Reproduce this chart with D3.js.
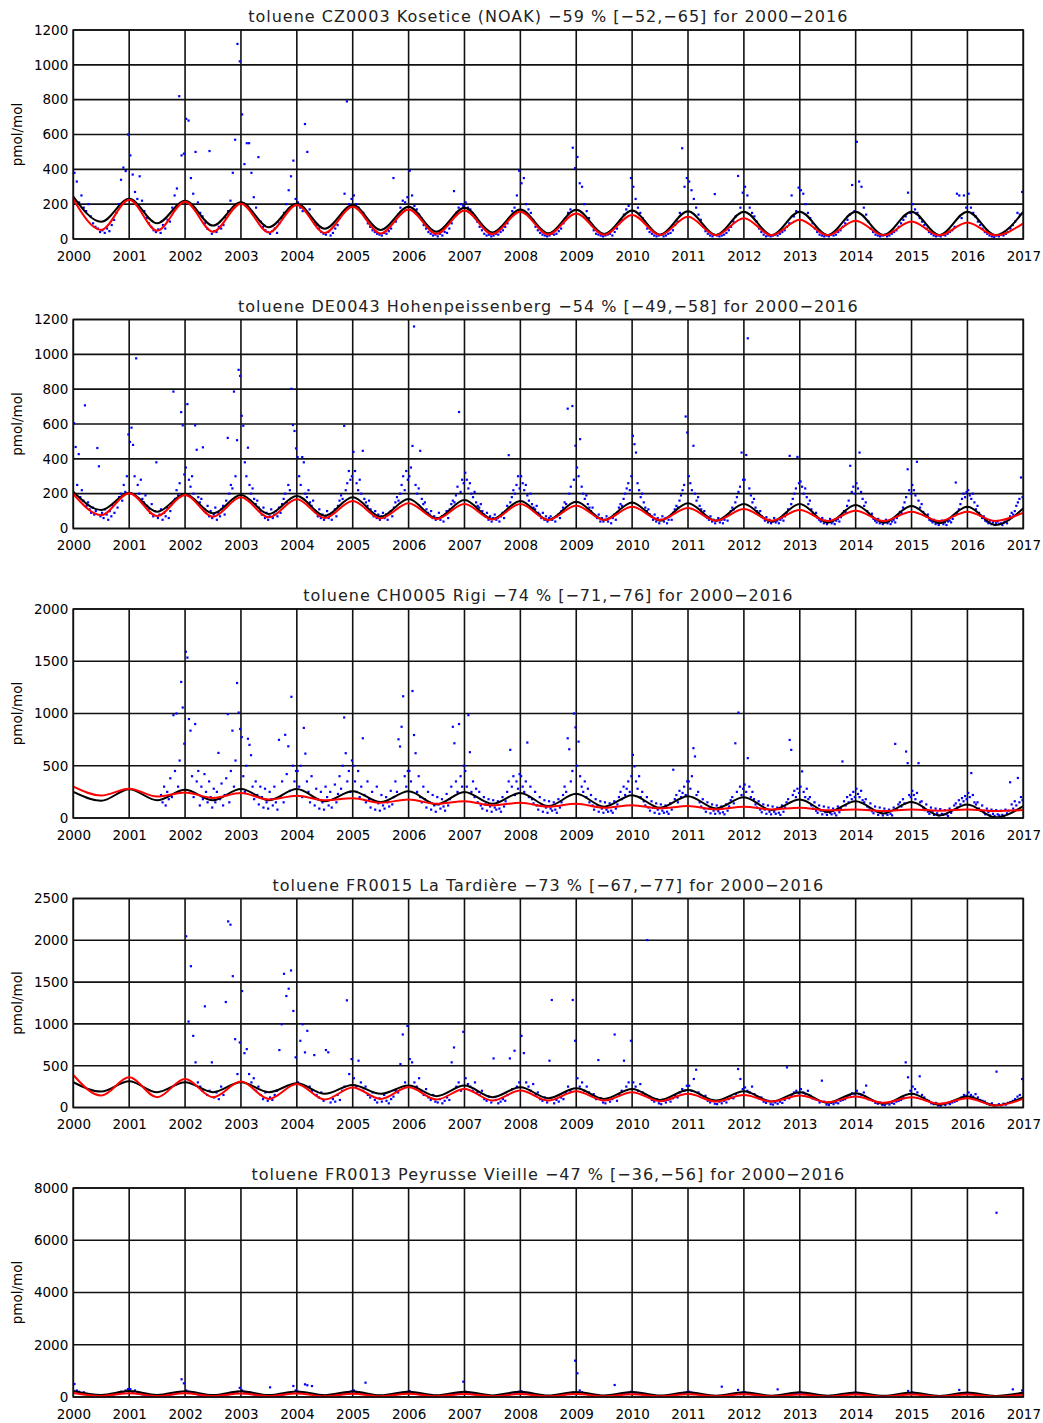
<!DOCTYPE html>
<html>
<head>
<meta charset="utf-8">
<script src="https://cdn.jsdelivr.net/npm/d3@7"></script>
<style>
  body { margin: 0; background: #fff; }
</style>
</head>
<body>
<div id="chart"></div>
<script>
// tick labels
const yearTicks = [2000, 2001, 2002, 2003, 2004, 2005, 2006, 2007, 2008, 2009, 2010, 2011, 2012, 2013, 2014, 2015, 2016, 2017];
const czTicks = [0, 200, 400, 600, 800, 1000, 1200];
const deTicks = [0, 200, 400, 600, 800, 1000, 1200];
const chTicks = [0, 500, 1000, 1500, 2000];
const fr15Ticks = [0, 500, 1000, 1500, 2000, 2500];
const fr13Ticks = [0, 2000, 4000, 6000, 8000];

const titles = [
  "toluene CZ0003 Kosetice (NOAK) \u221259 % [\u221252,\u221265] for 2000\u22122016",
  "toluene DE0043 Hohenpeissenberg \u221254 % [\u221249,\u221258] for 2000\u22122016",
  "toluene CH0005 Rigi \u221274 % [\u221271,\u221276] for 2000\u22122016",
  "toluene FR0015 La Tardi\u00e8re \u221273 % [\u221267,\u221277] for 2000\u22122016",
  "toluene FR0013 Peyrusse Vieille \u221247 % [\u221236,\u221256] for 2000\u22122016"
];

// fitted curves: values at Jan 1 and Jul 1 of every year (2000 ... 2017)
const czBlack = [243, 99, 231, 90, 220, 77, 211, 67, 203, 59, 195, 52, 185, 42, 180, 38, 170, 33, 168, 29, 163, 25, 160, 23, 157, 22, 157, 22, 157, 22, 157, 22, 157, 22, 157];
const czRed = [228, 52, 225, 48, 214, 42, 203, 38, 195, 35, 185, 32, 170, 30, 163, 28, 157, 26, 147, 24, 138, 23, 128, 22, 119, 21, 110, 21, 105, 21, 100, 21, 95, 21, 90];
const deBlack = [211, 106, 205, 96, 198, 87, 192, 83, 187, 73, 179, 68, 169, 58, 164, 55, 158, 49, 154, 49, 150, 45, 145, 45, 141, 39, 141, 33, 135, 33, 129, 30, 125, 20, 116];
const deRed = [198, 77, 202, 72, 192, 68, 179, 64, 168, 60, 158, 58, 145, 55, 141, 52, 141, 49, 131, 49, 125, 49, 118, 45, 112, 45, 106, 43, 102, 43, 96, 43, 96, 43, 91];
const chBlack = [250, 165, 275, 170, 270, 170, 277, 170, 277, 160, 256, 152, 256, 130, 250, 136, 240, 114, 231, 108, 218, 98, 209, 92, 199, 76, 177, 57, 161, 44, 152, 25, 130, 6, 114];
const chRed = [300, 215, 280, 205, 245, 192, 239, 176, 214, 170, 190, 146, 177, 136, 161, 120, 146, 108, 136, 98, 123, 92, 114, 82, 108, 82, 98, 73, 82, 66, 82, 70, 82, 66, 76];
const fr15Black = [302, 190, 313, 183, 302, 183, 302, 183, 290, 163, 270, 163, 262, 135, 262, 123, 242, 111, 230, 103, 222, 91, 210, 83, 194, 71, 183, 56, 171, 44, 163, 32, 131, 24, 123];
const fr15Red = [389, 143, 361, 123, 341, 123, 310, 103, 282, 95, 240, 103, 242, 95, 222, 83, 202, 83, 194, 83, 183, 75, 163, 71, 151, 71, 143, 63, 131, 56, 123, 44, 111, 24, 103];
const fr13Black = [230, 80, 225, 78, 222, 75, 218, 72, 215, 70, 210, 68, 205, 65, 200, 62, 198, 60, 195, 58, 190, 55, 185, 52, 182, 50, 178, 48, 175, 45, 170, 42, 168, 40, 165];
const fr13Red = [150, 38, 145, 36, 140, 35, 135, 34, 130, 33, 125, 32, 122, 30, 118, 29, 115, 28, 112, 27, 108, 26, 105, 25, 102, 24, 100, 23, 97, 22, 95, 21, 92, 20, 90];

// samples, one row per year 2000..2016, evenly spread within the year
const czDots = [
  [380, 330, 210, 250, 180, 160, 200, 130, 90, 70, 60, 40, 50, 35, 60, 45, 80, 110, 150, 200, 340, 410, 390, 600],
  [480, 370, 270, 230, 360, 220, 160, 120, 90, 70, 50, 40, 55, 35, 80, 60, 110, 100, 180, 250, 290, 820, 480, 490],
  [690, 680, 350, 260, 500, 210, 150, 130, 90, 60, 505, 30, 45, 40, 70, 60, 80, 120, 160, 220, 380, 570, 1120, 1020],
  [715, 430, 550, 550, 380, 240, 180, 470, 100, 70, 50, 40, 30, 45, 60, 35, 90, 120, 150, 200, 280, 360, 450, 230],
  [210, 180, 160, 660, 500, 170, 120, 90, 80, 60, 40, 30, 25, 40, 20, 35, 60, 80, 120, 150, 260, 790, 200, 230],
  [250, 200, 180, 160, 150, 120, 90, 70, 50, 40, 30, 25, 20, 35, 30, 45, 60, 350, 100, 140, 180, 220, 210, 240],
  [392, 250, 190, 170, 140, 120, 80, 60, 40, 30, 20, 25, 15, 30, 20, 40, 35, 60, 90, 275, 150, 180, 200, 190],
  [210, 180, 170, 150, 120, 100, 70, 50, 30, 20, 25, 15, 20, 30, 25, 40, 50, 70, 90, 120, 160, 180, 250, 392],
  [320, 350, 200, 170, 150, 110, 70, 50, 35, 25, 20, 15, 20, 30, 25, 30, 45, 60, 90, 120, 150, 170, 524, 407],
  [471, 320, 300, 200, 160, 120, 80, 50, 30, 25, 20, 15, 20, 25, 30, 20, 40, 60, 90, 110, 140, 170, 190, 350],
  [300, 230, 180, 150, 120, 100, 60, 40, 30, 20, 15, 20, 25, 15, 20, 30, 35, 50, 80, 100, 150, 521, 300, 350],
  [330, 280, 230, 180, 140, 110, 70, 45, 30, 20, 15, 258, 20, 15, 20, 25, 35, 50, 70, 100, 130, 362, 180, 266],
  [300, 250, 180, 150, 130, 100, 60, 40, 25, 15, 20, 15, 20, 25, 20, 30, 40, 50, 70, 90, 250, 130, 160, 295],
  [280, 260, 200, 150, 120, 90, 60, 40, 25, 20, 15, 20, 15, 25, 20, 25, 40, 50, 70, 90, 110, 140, 310, 160],
  [558, 330, 300, 180, 140, 100, 60, 40, 25, 20, 15, 20, 25, 15, 20, 30, 40, 50, 70, 90, 110, 130, 266, 150],
  [200, 170, 150, 120, 100, 80, 60, 40, 30, 20, 15, 20, 15, 25, 20, 30, 40, 50, 70, 260, 250, 120, 250, 180],
  [260, 180, 150, 130, 100, 80, 60, 40, 30, 20, 15, 10, 20, 15, 25, 20, 30, 40, 60, 80, 100, 150, 140, 270]
];

const deDots = [
  [604, 468, 250, 427, 180, 220, 160, 707, 130, 150, 110, 90, 120, 80, 100, 462, 357, 70, 90, 60, 110, 80, 50, 100, 70, 130, 90, 150, 120, 180, 200, 160, 250, 210, 300, 540],
  [497, 579, 480, 300, 977, 250, 200, 280, 170, 150, 190, 130, 110, 90, 140, 70, 100, 380, 60, 80, 110, 50, 90, 70, 120, 60, 100, 140, 786, 170, 220, 190, 260, 668, 592, 310],
  [350, 714, 280, 240, 300, 200, 592, 452, 180, 150, 170, 466, 110, 90, 130, 70, 100, 60, 80, 120, 50, 90, 70, 110, 130, 80, 160, 520, 200, 250, 230, 786, 300, 507, 911, 876],
  [647, 590, 380, 300, 464, 250, 200, 230, 170, 140, 160, 120, 100, 80, 120, 60, 90, 50, 70, 110, 60, 80, 100, 70, 120, 90, 140, 170, 200, 150, 250, 220, 802, 594, 560, 460],
  [410, 300, 250, 410, 380, 200, 180, 220, 150, 130, 160, 100, 90, 70, 110, 60, 80, 50, 70, 100, 60, 80, 50, 90, 110, 70, 130, 160, 190, 170, 589, 220, 260, 330, 280, 300],
  [440, 330, 260, 220, 280, 200, 446, 170, 150, 130, 160, 110, 90, 70, 100, 60, 80, 50, 70, 90, 60, 80, 50, 90, 100, 70, 120, 150, 180, 160, 200, 250, 300, 220, 330, 280],
  [300, 350, 474, 1160, 250, 200, 230, 446, 170, 140, 150, 110, 90, 80, 100, 60, 70, 50, 60, 90, 50, 70, 40, 80, 100, 60, 110, 140, 160, 150, 190, 240, 669, 210, 280, 260],
  [320, 280, 230, 260, 200, 180, 210, 150, 130, 120, 140, 100, 80, 70, 90, 50, 70, 40, 60, 80, 50, 60, 40, 70, 90, 60, 100, 130, 421, 150, 180, 220, 200, 250, 300, 230],
  [300, 260, 220, 250, 190, 160, 200, 140, 120, 110, 130, 90, 80, 60, 90, 50, 70, 40, 60, 70, 50, 60, 40, 70, 80, 60, 100, 120, 150, 140, 688, 200, 240, 703, 280, 475],
  [350, 300, 513, 240, 200, 170, 190, 140, 120, 100, 120, 80, 70, 60, 80, 40, 60, 40, 50, 70, 40, 60, 30, 60, 80, 50, 90, 120, 140, 130, 170, 200, 230, 260, 220, 300],
  [532, 484, 436, 260, 220, 180, 200, 150, 120, 100, 110, 80, 70, 50, 80, 40, 60, 30, 50, 70, 40, 60, 30, 50, 70, 50, 90, 110, 130, 120, 160, 190, 220, 250, 643, 551],
  [300, 260, 220, 475, 200, 160, 180, 130, 110, 90, 100, 70, 60, 50, 70, 40, 50, 30, 45, 60, 35, 50, 30, 50, 70, 45, 80, 100, 120, 110, 150, 180, 210, 240, 436, 280],
  [280, 422, 1092, 230, 190, 150, 170, 120, 100, 90, 100, 70, 60, 45, 65, 35, 50, 30, 40, 60, 35, 45, 30, 50, 60, 45, 70, 90, 110, 417, 140, 170, 200, 230, 411, 260],
  [270, 240, 200, 230, 180, 140, 160, 110, 90, 80, 90, 60, 50, 40, 60, 30, 45, 25, 40, 55, 30, 40, 25, 45, 55, 40, 65, 85, 100, 95, 130, 160, 360, 210, 240, 200],
  [260, 230, 436, 210, 170, 130, 150, 100, 85, 75, 85, 55, 45, 35, 55, 30, 40, 25, 35, 50, 30, 40, 25, 40, 50, 35, 60, 80, 95, 90, 120, 150, 180, 340, 220, 200],
  [250, 220, 190, 383, 160, 120, 140, 95, 80, 70, 80, 50, 45, 35, 50, 25, 40, 20, 35, 45, 25, 35, 20, 40, 45, 35, 55, 75, 264, 85, 110, 140, 170, 200, 180, 210],
  [220, 190, 170, 200, 150, 110, 130, 90, 75, 60, 70, 45, 40, 30, 45, 25, 35, 20, 30, 40, 25, 30, 20, 35, 40, 30, 50, 70, 90, 80, 100, 130, 150, 170, 293, 180]
];

const chDots = [
  [],
  [null, null, null, null, null, null, null, null, null, null, null, null, null, null, null, null, null, null, null, null,
   220, 150, 300, 120, 250, 180, 380, 200, 984, 450, 1000, 300, 550, 1302, 1057, 711],
  [1591, 1535, 947, 836, 400, 200, 899, 350, 450, 120, 300, 180, 420, 250, 150, 350, 200, 100, 280, 150, 250, 623, 180, 330, 120, 220, 380, 994, 150, 450, 836, 300, 550, 1292, 1009, 852],
  [774, 400, 250, 500, 758, 700, 601, 300, 180, 350, 220, 130, 300, 200, 100, 280, 150, 90, 250, 180, 120, 300, 150, 80, 748, 200, 350, 150, 796, 420, 686, 260, 1160, 500, 350, 450],
  [450, 300, 500, 200, 862, 616, 350, 250, 150, 400, 200, 120, 280, 180, 90, 250, 150, 80, 300, 200, 120, 250, 100, 180, 320, 150, 230, 400, 280, 500, 962, 620, 350, 450, 250, 550],
  [500, 350, 250, 450, 200, 300, 763, 220, 150, 350, 180, 100, 250, 160, 80, 300, 140, 70, 220, 120, 90, 200, 150, 110, 260, 130, 200, 350, 250, 753, 684, 873, 1165, 400, 300, 450],
  [450, 350, 1215, 794, 620, 250, 400, 200, 150, 300, 180, 100, 250, 150, 80, 220, 120, 60, 200, 130, 90, 180, 110, 70, 230, 120, 180, 300, 873, 715, 350, 250, 899, 400, 300, 500],
  [450, 300, 984, 630, 250, 350, 200, 280, 150, 250, 120, 90, 200, 130, 70, 180, 110, 60, 170, 100, 80, 160, 90, 60, 200, 110, 160, 250, 350, 652, 300, 400, 220, 350, 280, 420],
  [400, 300, 250, 350, 722, 200, 300, 180, 140, 250, 120, 80, 200, 120, 60, 170, 100, 50, 160, 90, 70, 150, 80, 50, 180, 100, 150, 220, 300, 250, 763, 658, 350, 450, 1000, 867],
  [500, 731, 400, 300, 250, 350, 200, 280, 150, 220, 120, 80, 180, 110, 60, 160, 90, 50, 150, 80, 60, 140, 70, 50, 160, 90, 130, 200, 250, 180, 300, 220, 280, 350, 250, 400],
  [604, 494, 350, 280, 400, 200, 250, 160, 120, 200, 100, 70, 160, 100, 50, 140, 80, 40, 130, 70, 50, 120, 60, 40, 140, 80, 462, 180, 220, 150, 260, 200, 240, 300, 220, 350],
  [350, 280, 400, 668, 589, 220, 250, 150, 110, 180, 90, 60, 150, 90, 45, 130, 70, 40, 120, 65, 45, 110, 55, 35, 130, 70, 110, 170, 200, 140, 715, 250, 1009, 300, 220, 280],
  [320, 250, 573, 300, 200, 250, 180, 130, 100, 160, 80, 55, 130, 80, 40, 120, 60, 35, 110, 60, 40, 100, 50, 30, 120, 60, 100, 150, 180, 747, 652, 220, 260, 200, 280, 240],
  [300, 446, 250, 200, 280, 180, 200, 120, 90, 150, 70, 50, 120, 70, 35, 110, 55, 30, 100, 50, 35, 90, 45, 25, 110, 55, 90, 541, 160, 120, 200, 150, 220, 180, 250, 200],
  [280, 230, 200, 260, 170, 150, 180, 110, 80, 140, 65, 45, 110, 65, 30, 100, 50, 25, 90, 45, 30, 80, 40, 25, 100, 709, 80, 130, 150, 110, 180, 140, 636, 525, 220, 200],
  [260, 220, 180, 240, 525, 150, 160, 100, 75, 130, 60, 40, 100, 60, 30, 90, 45, 25, 85, 40, 30, 75, 35, 20, 90, 50, 75, 120, 140, 100, 170, 130, 190, 160, 210, 180],
  [240, 200, 430, 220, 150, 130, 150, 90, 70, 120, 55, 35, 90, 55, 25, 80, 40, 20, 75, 35, 25, 70, 30, 20, 80, 45, 70, 342, 130, 90, 160, 120, 383, 150, 200, 170]
];

const fr15Dots = [
  [],
  [],
  [2048, 1028, 1690, 857, 540, 300, 250, 200, 1210, 150, 200, 540, 120, 180, 100, 250, 150, 1262, 2226, 2187, 1571, 817, 400, 778],
  [1393, 650, 698, 400, 300, 350, 200, 250, 150, 100, 180, 80, 120, 90, 150, 200, 687, 996, 1599, 1333, 1421, 1639, 1155, 600],
  [300, 798, 996, 659, 917, 250, 200, 627, 150, 120, 180, 80, 687, 660, 60, 100, 70, 150, 90, 200, 250, 1282, 400, 579],
  [350, 250, 560, 300, 200, 250, 150, 120, 180, 90, 60, 110, 70, 150, 80, 50, 100, 130, 200, 180, 520, 873, 300, 976],
  [579, 540, 300, 250, 350, 200, 150, 220, 120, 90, 150, 70, 60, 100, 50, 80, 120, 90, 540, 718, 250, 300, 200, 905],
  [350, 280, 250, 200, 300, 180, 150, 200, 100, 80, 130, 60, 587, 90, 50, 70, 100, 80, 150, 587, 220, 679, 250, 300],
  [857, 651, 300, 250, 200, 280, 150, 180, 100, 80, 120, 60, 560, 1286, 50, 90, 70, 120, 100, 180, 250, 200, 1286, 798],
  [350, 250, 300, 200, 250, 180, 140, 160, 100, 567, 110, 60, 50, 90, 70, 100, 873, 80, 150, 200, 560, 250, 300, 798],
  [300, 250, 200, 280, 180, 150, 2003, 130, 90, 70, 100, 50, 40, 80, 60, 90, 70, 110, 140, 120, 180, 220, 200, 260],
  [260, 200, 341, 452, 180, 150, 120, 140, 80, 60, 90, 45, 40, 70, 50, 80, 60, 100, 120, 110, 160, 460, 341, 220],
  [240, 200, 180, 250, 160, 130, 110, 120, 70, 55, 80, 40, 35, 60, 45, 70, 55, 90, 480, 110, 150, 180, 200, 170],
  [220, 180, 160, 200, 140, 110, 100, 90, 60, 321, 70, 35, 30, 55, 40, 60, 50, 80, 90, 100, 130, 150, 170, 160],
  [200, 160, 150, 180, 262, 100, 90, 80, 55, 45, 60, 30, 25, 50, 35, 55, 45, 70, 80, 90, 110, 540, 361, 200],
  [250, 220, 180, 373, 150, 120, 90, 80, 50, 40, 55, 25, 20, 45, 30, 50, 40, 60, 70, 80, 100, 120, 150, 140],
  [180, 150, 130, 160, 120, 90, 80, 70, 45, 35, 50, 25, 429, 40, 25, 45, 35, 55, 65, 80, 100, 130, 150, 341]
];

const fr13Dots = [
  [497, 250, 200, 150, 180, 120, 100, 80, 60, 50, 40, 70, 50, 30, 60, 40, 80, 100, 120, 150, 200, 180, 250, 300],
  [300, 200, 250, 150, 120, 100, 90, 70, 50, 40, 60, 30, 40, 50, 30, 60, 70, 90, 110, 130, 150, 170, 677, 524],
  [250, 200, 180, 150, 130, 100, 80, 60, 50, 40, 30, 50, 40, 30, 60, 40, 70, 90, 100, 120, 140, 160, 200, 350],
  [250, 200, 150, 180, 120, 100, 80, 60, 50, 40, 30, 50, 370, 40, 30, 60, 70, 80, 100, 120, 150, 180, 421, 250],
  [200, 180, 150, 485, 450, 120, 420, 80, 60, 50, 40, 30, 45, 35, 30, 50, 60, 80, 100, 120, 140, 160, 180, 220],
  [250, 200, 180, 150, 120, 548, 100, 70, 50, 40, 30, 45, 35, 30, 40, 50, 60, 80, 100, 120, 140, 160, 180, 200],
  [220, 180, 150, 130, 110, 90, 70, 60, 45, 35, 30, 40, 30, 25, 35, 45, 60, 70, 90, 110, 130, 150, 170, 586],
  [200, 180, 150, 130, 110, 90, 70, 55, 45, 35, 30, 40, 30, 25, 35, 45, 55, 70, 90, 110, 130, 150, 170, 200],
  [220, 180, 150, 130, 110, 90, 70, 55, 45, 35, 30, 40, 30, 25, 35, 40, 55, 70, 90, 110, 130, 150, 170, 1390],
  [907, 250, 180, 150, 120, 90, 70, 55, 45, 35, 30, 40, 30, 25, 35, 40, 459, 70, 90, 100, 120, 140, 160, 200],
  [180, 160, 140, 120, 100, 80, 60, 50, 40, 30, 25, 35, 30, 25, 30, 40, 50, 60, 80, 100, 120, 140, 160, 180],
  [200, 170, 150, 120, 100, 80, 60, 50, 40, 30, 25, 35, 30, 25, 395, 40, 50, 60, 80, 100, 120, 270, 150, 170],
  [180, 150, 130, 110, 90, 70, 55, 45, 35, 30, 25, 35, 25, 20, 293, 35, 45, 55, 70, 90, 110, 130, 150, 160],
  [170, 150, 130, 110, 90, 70, 55, 45, 35, 30, 25, 30, 25, 20, 30, 35, 45, 55, 70, 90, 110, 130, 150, 160],
  [160, 140, 120, 100, 85, 70, 55, 45, 35, 30, 25, 30, 25, 20, 30, 35, 45, 55, 70, 85, 100, 120, 230, 150],
  [170, 150, 130, 110, 90, 70, 55, 45, 35, 30, 25, 30, 25, 20, 30, 35, 45, 55, 70, 85, 270, 120, 140, 150],
  [150, 130, 110, 90, 75, 60, 50, 40, 30, 25, 20, 25, 7053, 20, 25, 30, 40, 50, 60, 293, 90, 110, 130, 250]
];

const panels = [
  { title: titles[0], ticks: czTicks, black: czBlack, red: czRed, dots: czDots },
  { title: titles[1], ticks: deTicks, black: deBlack, red: deRed, dots: deDots },
  { title: titles[2], ticks: chTicks, black: chBlack, red: chRed, dots: chDots },
  { title: titles[3], ticks: fr15Ticks, black: fr15Black, red: fr15Red, dots: fr15Dots },
  { title: titles[4], ticks: fr13Ticks, black: fr13Black, red: fr13Red, dots: fr13Dots }
];

// layout
var width = 1043, height = 1423;
var left = 73.3, right = 1023.3, firstTop = 30, step = 289.5, plotH = 209;
var font = "'DejaVu Sans', Verdana, sans-serif";

var svg = d3.select("#chart").append("svg")
  .attr("width", width).attr("height", height)
  .style("background", "#fff");

var x = d3.scaleLinear().domain([yearTicks[0], yearTicks[yearTicks.length - 1]]).range([left, right]);

panels.forEach((p, k) => {
  var top = firstTop + k * step, bottom = top + plotH;
  var y = d3.scaleLinear().domain([0, d3.max(p.ticks)]).range([bottom, top]);
  var g = svg.append("g");

  svg.append("clipPath").attr("id", "clip" + k)
    .append("rect").attr("x", left).attr("y", top).attr("width", right - left).attr("height", plotH);

  // grid
  g.append("g").selectAll("line").data(p.ticks).enter().append("line")
    .attr("x1", left).attr("x2", right)
    .attr("y1", d => y(d)).attr("y2", d => y(d))
    .attr("stroke", "#111").attr("stroke-width", 1.6);
  g.append("g").selectAll("line").data(yearTicks).enter().append("line")
    .attr("x1", d => x(d)).attr("x2", d => x(d))
    .attr("y1", top).attr("y2", bottom)
    .attr("stroke", "#111").attr("stroke-width", 1.6);

  // measurements
  var pts = [];
  p.dots.forEach((row, r) => {
    row.forEach((v, i) => {
      if (v != null) pts.push({ t: yearTicks[r] + (i + 0.5) / row.length, v: v });
    });
  });
  g.append("g").attr("clip-path", "url(#clip" + k + ")")
    .selectAll("rect").data(pts).enter().append("rect")
    .attr("x", d => x(d.t) - 1.1).attr("y", d => y(d.v) - 1.1)
    .attr("width", 2.2).attr("height", 2.2)
    .attr("fill", "#0000ff");

  // fitted curves
  var line = d3.line()
    .x((d, i) => x(yearTicks[0] + i / 2))
    .y(d => y(d))
    .curve(d3.curveMonotoneX);
  var lg = g.append("g").attr("clip-path", "url(#clip" + k + ")");
  lg.append("path").attr("d", line(p.black))
    .attr("fill", "none").attr("stroke", "#000").attr("stroke-width", 2);
  lg.append("path").attr("d", line(p.red))
    .attr("fill", "none").attr("stroke", "#ff0000").attr("stroke-width", 2);

  // frame
  g.append("rect").attr("x", left).attr("y", top)
    .attr("width", right - left).attr("height", plotH)
    .attr("fill", "none").attr("stroke", "#111").attr("stroke-width", 1.6);

  // axes
  var xa = g.append("g").attr("transform", `translate(0,${bottom})`)
    .call(d3.axisBottom(x).tickValues(yearTicks).tickFormat(d3.format("d")).tickSize(0).tickPadding(12));
  xa.select(".domain").remove();
  xa.selectAll("text").attr("font-family", font).attr("font-size", 13.5).attr("fill", "#000");

  var ya = g.append("g").attr("transform", `translate(${left},0)`)
    .call(d3.axisLeft(y).tickValues(p.ticks).tickFormat(d3.format("d")).tickSize(0).tickPadding(5));
  ya.select(".domain").remove();
  ya.selectAll("text").attr("font-family", font).attr("font-size", 13.5).attr("fill", "#000");

  // title + unit
  g.append("text")
    .attr("x", (left + right) / 2).attr("y", top - 8)
    .attr("text-anchor", "middle")
    .attr("font-family", font).attr("font-size", 16).attr("fill", "#222")
    .attr("letter-spacing", 1)
    .text(p.title);

  g.append("text")
    .attr("transform", `translate(17,${(top + bottom) / 2}) rotate(-90)`)
    .attr("dy", "0.35em")
    .attr("text-anchor", "middle")
    .attr("font-family", font).attr("font-size", 13.5).attr("fill", "#000")
    .text("pmol/mol");
});
</script>
</body>
</html>
